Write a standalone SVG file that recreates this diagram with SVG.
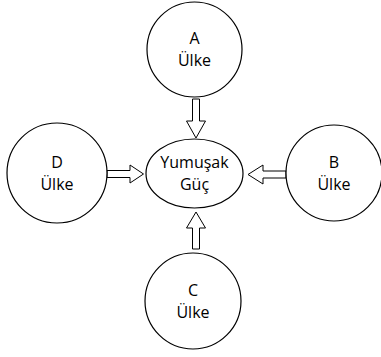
<svg xmlns="http://www.w3.org/2000/svg" width="381" height="357" viewBox="0 0 381 357">
<style>
.n{fill:#fff;stroke:#000;stroke-width:1.2}
.t{font-family:"Open Sans","Noto Sans",sans-serif;font-size:16px;fill:#000;text-anchor:middle}
.a{fill:#fff;stroke:#000;stroke-width:1}
</style>
<rect width="381" height="357" fill="#fff"/>
<g id="connectors">
<polygon class="a" points="192.5,99 199.5,99 199.5,121 205.5,121 196,138 186.5,121 192.5,121"/>
<polygon class="a" points="192.5,249 199.5,249 199.5,228 205.5,228 196,212 186.5,228 192.5,228"/>
<polygon class="a" points="107,170.5 130,170.5 130,165 143.5,174 130,183 130,177.5 107,177.5"/>
<polygon class="a" points="286,171 263,171 263,165 248,174.5 263,184 263,178 286,178"/>
</g>
<g id="A"><circle class="n" cx="194.5" cy="49.5" r="47.5"/><text class="t" x="194.5" y="44">A</text><text class="t" x="194.5" y="66">Ülke</text></g>
<g id="center"><ellipse class="n" cx="194.5" cy="173.5" rx="48.5" ry="34.5"/><text class="t" x="194.5" y="168">Yumuşak</text><text class="t" x="194.5" y="190">Güç</text></g>
<g id="D"><circle class="n" cx="57" cy="173" r="50"/><text class="t" x="57" y="168">D</text><text class="t" x="57" y="190">Ülke</text></g>
<g id="B"><circle class="n" cx="334" cy="173" r="48"/><text class="t" x="334" y="168">B</text><text class="t" x="334" y="190">Ülke</text></g>
<g id="C"><circle class="n" cx="193" cy="301" r="48"/><text class="t" x="193" y="296">C</text><text class="t" x="193" y="318">Ülke</text></g>
</svg>
